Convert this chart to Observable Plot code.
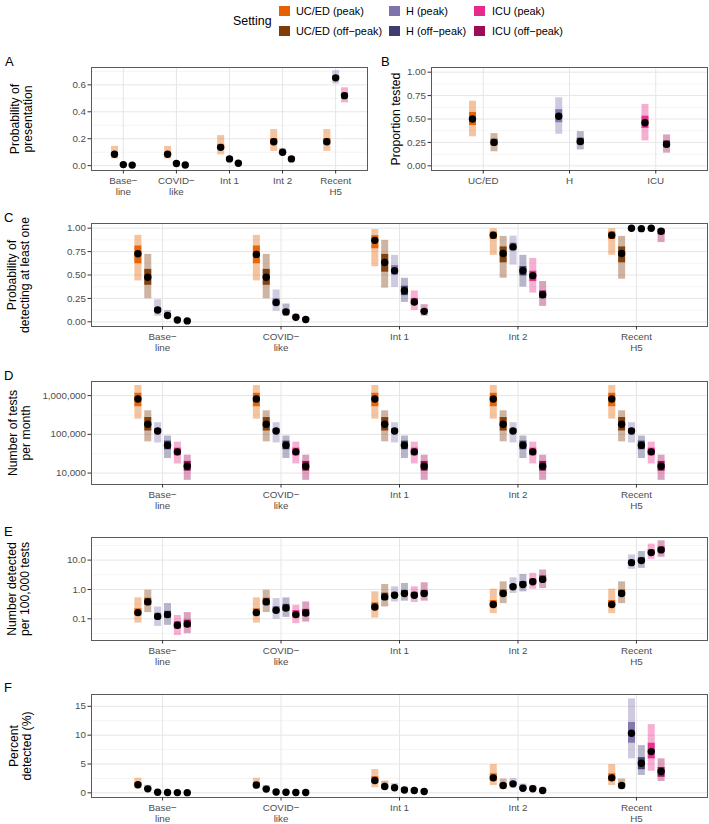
<!DOCTYPE html>
<html><head><meta charset="utf-8">
<script src="https://cdn.jsdelivr.net/npm/d3@7"></script>
<script src="https://cdn.jsdelivr.net/npm/@observablehq/plot@0.6"></script>
<style>
html,body{margin:0;padding:0;background:#fff;overflow:hidden;}
#root{position:relative;width:709px;height:824px;overflow:hidden;font-family:"Liberation Sans",Arial,Helvetica,sans-serif;color:#000;}
.letter{position:absolute;font-size:13px;line-height:13px;}
.ytitle{position:absolute;font-size:12.2px;line-height:13px;text-align:center;white-space:nowrap;transform:translate(-50%,-50%) rotate(-90deg);}
.lg{position:absolute;font-size:10.9px;line-height:12px;white-space:nowrap;}
.sw{position:absolute;width:10.5px;height:10.5px;}
</style></head><body><div id="root"></div>
<script>
// ---------- categories & settings ----------
const scenarios = ["Base\u2212\nline", "COVID\u2212\nlike", "Int 1", "Int 2", "Recent\nH5"];
const settings = ["UC/ED (peak)", "UC/ED (off\u2212peak)", "H (peak)", "H (off\u2212peak)", "ICU (peak)", "ICU (off\u2212peak)"];
const settingColors = ["#E66101", "#7F3B08", "#8073AC", "#3F3C70", "#E7298A", "#9E0B55"];
const aSettings = ["UC/ED (peak)", "H (peak)", "ICU (peak)"];
const bCategories = ["UC/ED", "H", "ICU"];
const bSettings = [["UC/ED (peak)", "UC/ED (off\u2212peak)"], ["H (peak)", "H (off\u2212peak)"], ["ICU (peak)", "ICU (off\u2212peak)"]];

// ---------- A: probability of presentation (UC/ED, H, ICU) ----------
const aMid  = [[0.085,0.008,0.004],[0.085,0.016,0.005],[0.136,0.050,0.018],[0.178,0.099,0.050],[0.178,0.652,0.520]];
const aLo   = [[0.050,0.005,0.002],[0.050,0.011,0.003],[0.080,0.035,0.012],[0.106,0.075,0.035],[0.106,0.607,0.466]];
const aHi   = [[0.143,0.012,0.006],[0.143,0.022,0.008],[0.223,0.068,0.026],[0.268,0.128,0.068],[0.268,0.706,0.578]];
const aLo50 = [[0.074,0.007,0.003],[0.074,0.014,0.004],[0.118,0.045,0.016],[0.155,0.091,0.045],[0.155,0.637,0.501]];
const aHi50 = [[0.098,0.009,0.005],[0.098,0.018,0.006],[0.158,0.055,0.020],[0.202,0.108,0.055],[0.202,0.668,0.539]];

// ---------- B: proportion tested (peak, off-peak) ----------
const bMid  = [[0.50,0.250],[0.530,0.260],[0.460,0.230]];
const bLo   = [[0.31,0.150],[0.337,0.170],[0.266,0.135]];
const bHi   = [[0.69,0.344],[0.727,0.365],[0.656,0.330]];
const bLo50 = [[0.43,0.215],[0.460,0.225],[0.400,0.195]];
const bHi50 = [[0.57,0.285],[0.600,0.295],[0.530,0.265]];

// ---------- C: probability of detecting at least one ----------
const cMid  = [[0.727,0.476,0.127,0.067,0.020,0.010],[0.720,0.476,0.207,0.106,0.048,0.024],[0.870,0.634,0.545,0.331,0.211,0.112],[0.925,0.730,0.800,0.545,0.493,0.289],[0.925,0.730,1.000,0.995,1.000,0.968]];
const cLo   = [[0.437,0.246,0.060,0.035,0.008,0.003],[0.437,0.246,0.112,0.060,0.025,0.010],[0.588,0.360,0.366,0.207,0.120,0.060],[0.710,0.465,0.606,0.370,0.307,0.165],[0.710,0.455,0.995,0.985,0.993,0.846]];
const cHi   = [[0.923,0.720,0.236,0.120,0.040,0.020],[0.923,0.720,0.340,0.190,0.080,0.045],[0.986,0.870,0.710,0.465,0.330,0.183],[0.994,0.912,0.915,0.710,0.677,0.430],[0.994,0.912,1.000,1.000,1.000,0.990]];
const cLo50 = [[0.62,0.39,0.100,0.050,0.015,0.006],[0.62,0.39,0.170,0.085,0.038,0.017],[0.78,0.53,0.50,0.28,0.18,0.095],[0.88,0.63,0.76,0.49,0.43,0.25],[0.88,0.63,0.999,0.992,0.998,0.93]];
const cHi50 = [[0.81,0.56,0.150,0.085,0.026,0.014],[0.81,0.56,0.245,0.130,0.060,0.032],[0.92,0.72,0.60,0.38,0.25,0.13],[0.96,0.80,0.84,0.59,0.54,0.33],[0.96,0.80,1.000,0.998,1.000,0.985]];

// ---------- D: number of tests per month ----------
const dMid  = [[820000,183000,122000,52500,35300,15000],[820000,183000,122000,52500,35300,15000],[820000,183000,122000,52500,35300,15000],[820000,183000,122000,52500,35300,15000],[820000,183000,122000,52500,35300,15000]];
const dLo   = [[247000,64000,60000,23700,17200,6500],[247000,64000,60000,23700,17200,6500],[247000,64000,60000,23700,17200,6500],[247000,64000,60000,23700,17200,6500],[247000,64000,60000,23700,17200,6500]];
const dHi   = [[1820000,406000,200000,90600,63000,29000],[1820000,406000,200000,90600,63000,29000],[1820000,406000,200000,90600,63000,29000],[1820000,406000,200000,90600,63000,29000],[1820000,406000,200000,90600,63000,29000]];
const dLo50 = [[517000,122000,105000,40000,28000,11200],[517000,122000,105000,40000,28000,11200],[517000,122000,105000,40000,28000,11200],[517000,122000,105000,40000,28000,11200],[517000,122000,105000,40000,28000,11200]];
const dHi50 = [[1150000,272000,141000,67000,44000,20000],[1150000,272000,141000,67000,44000,20000],[1150000,272000,141000,67000,44000,20000],[1150000,272000,141000,67000,44000,20000],[1150000,272000,141000,67000,44000,20000]];

// ---------- E: number detected per 100,000 tests ----------
const eMid  = [[0.163,0.376,0.121,0.139,0.060,0.066],[0.163,0.376,0.195,0.234,0.139,0.158],[0.253,0.557,0.637,0.730,0.637,0.730],[0.306,0.730,1.23,1.48,1.82,2.20],[0.306,0.730,8.18,9.60,18.0,22.3]];
const eLo   = [[0.0715,0.163,0.055,0.060,0.027,0.031],[0.0715,0.163,0.096,0.112,0.068,0.077],[0.106,0.253,0.376,0.40,0.358,0.40],[0.15,0.33,0.73,0.83,1.02,1.08],[0.15,0.33,4.85,5.25,10.7,12.5]];
const eHi   = [[0.515,0.946,0.253,0.33,0.13,0.163],[0.515,0.946,0.49,0.515,0.29,0.376],[0.83,1.48,1.23,1.60,1.23,1.69],[1.02,1.82,2.5,3.27,3.54,4.59],[1.02,1.82,15.0,19.5,35.0,45.4]];
const eLo50 = [[0.125,0.29,0.095,0.105,0.045,0.05],[0.125,0.29,0.15,0.18,0.105,0.12],[0.19,0.43,0.53,0.60,0.52,0.60],[0.24,0.58,1.05,1.22,1.5,1.75],[0.24,0.58,6.9,8.0,15.0,18.5]];
const eHi50 = [[0.22,0.50,0.155,0.18,0.08,0.09],[0.22,0.50,0.26,0.31,0.19,0.21],[0.35,0.75,0.80,0.92,0.80,0.92],[0.42,0.95,1.48,1.85,2.3,2.9],[0.42,0.95,9.9,12.0,22.5,28.0]];

// ---------- F: percent detected (%) ----------
const fMid  = [[1.39,0.69,0.10,0.06,0.04,0.03],[1.35,0.65,0.15,0.10,0.06,0.05],[2.13,1.09,0.87,0.50,0.40,0.22],[2.60,1.26,1.56,0.80,0.70,0.40],[2.60,1.26,10.32,5.13,7.15,3.69]];
const fLo   = [[0.69,0.35,0.05,0.03,0.02,0.01],[0.69,0.33,0.08,0.05,0.03,0.02],[0.87,0.55,0.45,0.25,0.20,0.10],[1.26,0.60,0.80,0.40,0.35,0.20],[1.26,0.60,5.89,3.00,3.74,1.96]];
const fHi   = [[2.53,1.30,0.20,0.12,0.08,0.06],[2.53,1.25,0.30,0.20,0.12,0.10],[4.03,2.00,1.60,0.95,0.75,0.45],[4.90,2.40,2.50,1.50,1.30,0.80],[4.90,2.40,16.28,8.19,11.83,5.89]];
const fLo50 = [[1.10,0.55,0.08,0.045,0.03,0.02],[1.10,0.52,0.12,0.08,0.045,0.035],[1.60,0.85,0.70,0.40,0.32,0.17],[2.00,1.00,1.25,0.62,0.55,0.32],[2.00,1.00,8.60,4.00,5.89,2.70]];
const fHi50 = [[1.75,0.85,0.13,0.08,0.05,0.04],[1.75,0.80,0.20,0.13,0.08,0.07],[2.80,1.35,1.10,0.65,0.50,0.30],[3.30,1.55,1.90,1.05,0.90,0.55],[3.30,1.55,12.2,6.10,8.60,4.40]];

// ---------- axis ticks ----------
const aTicks = [0, 0.2, 0.4, 0.6], aMinor = [0.1, 0.3, 0.5, 0.7];
const pTicks = [0, 0.25, 0.5, 0.75, 1], pMinor = [0.125, 0.375, 0.625, 0.875];
const dTicks = [1e4, 1e5, 1e6], dMinor = [Math.pow(10, 4.5), Math.pow(10, 5.5)];
const eTicks = [0.1, 1, 10], eMinor = [Math.pow(10, -1.5), Math.pow(10, -0.5), Math.pow(10, 0.5), Math.pow(10, 1.5)];
const fTicks = [0, 5, 10, 15], fMinor = [2.5, 7.5, 12.5];

const FONT = '"Liberation Sans", Arial, Helvetica, sans-serif';
const root = document.getElementById("root");

function makePanel(o) {
  const rows = [];
  o.cats.forEach((c, i) => {
    const sets = o.sets[i];
    const n = sets.length;
    sets.forEach((s, j) => rows.push({
      pos: i + 1 + (j - (n - 1) / 2) * 0.5 / n,
      setting: s,
      mid: o.mid[i][j], lo: o.lo[i][j], hi: o.hi[i][j], lo50: o.lo50[i][j], hi50: o.hi50[i][j]
    }));
  });
  const xt = o.cats.map((_, i) => i + 1);
  const svg = Plot.plot({
    width: o.width, height: o.height,
    marginLeft: o.ml, marginRight: o.mr, marginTop: o.mt, marginBottom: o.mb,
    style: {fontFamily: FONT, fontSize: "9.8px", background: "transparent", overflow: "visible", maxWidth: "none", color: "#4D4D4D"},
    x: {type: "linear", domain: [0.4, o.cats.length + 0.6]},
    y: {type: o.yType, domain: o.yDomain},
    color: {domain: settings, range: settingColors},
    marks: [
      Plot.ruleY(o.minor, {stroke: "#EFEFEF", strokeWidth: 0.7}),
      Plot.ruleY(o.major, {stroke: "#E6E6E6", strokeWidth: 1}),
      Plot.ruleX(xt, {stroke: "#E6E6E6", strokeWidth: 1}),
      Plot.ruleX(rows, {x: "pos", y1: "lo", y2: "hi", stroke: "setting", strokeWidth: 7, strokeOpacity: 0.38}),
      Plot.ruleX(rows, {x: "pos", y1: "lo50", y2: "hi50", stroke: "setting", strokeWidth: 7, strokeOpacity: 0.95}),
      Plot.dot(rows, {x: "pos", y: "mid", r: 3.7, fill: "black"}),
      Plot.frame({stroke: "#5a5a5a", strokeWidth: 1}),
      Plot.axisX(xt, {tickFormat: (d) => o.cats[d - 1], tickSize: 3.5, tickPadding: 2, fontSize: 9.8, lineHeight: 1.12, stroke: "#333", fill: "#4D4D4D", label: null}),
      Plot.axisY(o.major, {tickFormat: o.fmt, tickSize: 3.5, tickPadding: 2, fontSize: 9.8, stroke: "#333", fill: "#4D4D4D", label: null})
    ]
  });
  svg.style.position = "absolute";
  svg.style.left = o.left + "px";
  svg.style.top = o.top + "px";
  root.appendChild(svg);
}

const aSets = scenarios.map(() => aSettings);
const sixSets = scenarios.map(() => settings);

makePanel({cats: scenarios, sets: aSets, mid: aMid, lo: aLo, hi: aHi, lo50: aLo50, hi50: aHi50,
  yType: "linear", yDomain: [-0.036, 0.729], major: aTicks, minor: aMinor, fmt: d3.format(".1f"),
  left: 0, top: 57, width: 370, height: 153, ml: 91, mr: 3, mt: 10, mb: 40});
makePanel({cats: bCategories, sets: bSettings, mid: bMid, lo: bLo, hi: bHi, lo50: bLo50, hi50: bHi50,
  yType: "linear", yDomain: [-0.05, 1.05], major: pTicks, minor: pMinor, fmt: d3.format(".2f"),
  left: 370, top: 57, width: 339, height: 153, ml: 61, mr: 2, mt: 10, mb: 40});
makePanel({cats: scenarios, sets: sixSets, mid: cMid, lo: cLo, hi: cHi, lo50: cLo50, hi50: cHi50,
  yType: "linear", yDomain: [-0.05, 1.05], major: pTicks, minor: pMinor, fmt: d3.format(".2f"),
  left: 0, top: 213, width: 709, height: 153, ml: 91, mr: 2, mt: 10, mb: 40});
makePanel({cats: scenarios, sets: sixSets, mid: dMid, lo: dLo, hi: dHi, lo50: dLo50, hi50: dHi50,
  yType: "log", yDomain: [Math.pow(10, 3.705), Math.pow(10, 6.365)], major: dTicks, minor: dMinor, fmt: d3.format(","),
  left: 0, top: 371, width: 709, height: 153, ml: 91, mr: 2, mt: 10, mb: 40});
makePanel({cats: scenarios, sets: sixSets, mid: eMid, lo: eLo, hi: eHi, lo50: eLo50, hi50: eHi50,
  yType: "log", yDomain: [Math.pow(10, -1.739), Math.pow(10, 1.770)], major: eTicks, minor: eMinor, fmt: d3.format(".1f"),
  left: 0, top: 527, width: 709, height: 153, ml: 91, mr: 2, mt: 10, mb: 40});
makePanel({cats: scenarios, sets: sixSets, mid: fMid, lo: fLo, hi: fHi, lo50: fLo50, hi50: fHi50,
  yType: "linear", yDomain: [-0.81, 17.05], major: fTicks, minor: fMinor, fmt: d3.format("d"),
  left: 0, top: 684, width: 709, height: 140, ml: 91, mr: 2, mt: 10, mb: 27});

// ---------- panel letters ----------
const letters = [["A", 5, 55], ["B", 381, 55], ["C", 4, 211], ["D", 4, 369], ["E", 4, 525], ["F", 4, 681]];
letters.forEach(([t, x, y]) => {
  const d = document.createElement("div");
  d.className = "letter"; d.textContent = t;
  d.style.left = x + "px"; d.style.top = y + "px";
  root.appendChild(d);
});

// ---------- y-axis titles ----------
const yTitles = [
  [["Probability of", "presentation"], 22, 118.5],
  [["Proportion tested"], 396, 119],
  [["Probability of", "detecting at least one"], 19, 274.5],
  [["Number of tests", "per month"], 20, 432.5],
  [["Number detected", "per 100,000 tests"], 19, 588.5],
  [["Percent", "detected (%)"], 21, 745.5]
];
yTitles.forEach(([lines, x, y]) => {
  const d = document.createElement("div");
  d.className = "ytitle";
  lines.forEach((l, i) => { if (i) d.appendChild(document.createElement("br")); d.appendChild(document.createTextNode(l)); });
  d.style.left = x + "px"; d.style.top = y + "px";
  root.appendChild(d);
});

// ---------- legend ----------
const lgTitle = document.createElement("div");
lgTitle.className = "lg"; lgTitle.textContent = "Setting";
lgTitle.style.fontSize = "12.4px"; lgTitle.style.lineHeight = "14px";
lgTitle.style.left = "233px"; lgTitle.style.top = "14px";
root.appendChild(lgTitle);
const swX = [279, 389, 474], txX = [296, 406, 492], rowY = [11, 31];
settings.forEach((s, k) => {
  const col = Math.floor(k / 2), row = k % 2;
  const sw = document.createElement("div");
  sw.className = "sw"; sw.style.background = settingColors[k];
  sw.style.left = swX[col] + "px"; sw.style.top = (rowY[row] - 5.25) + "px";
  root.appendChild(sw);
  const t = document.createElement("div");
  t.className = "lg"; t.textContent = s;
  t.style.left = txX[col] + "px"; t.style.top = (rowY[row] - 6.5) + "px";
  root.appendChild(t);
});
</script></body></html>
